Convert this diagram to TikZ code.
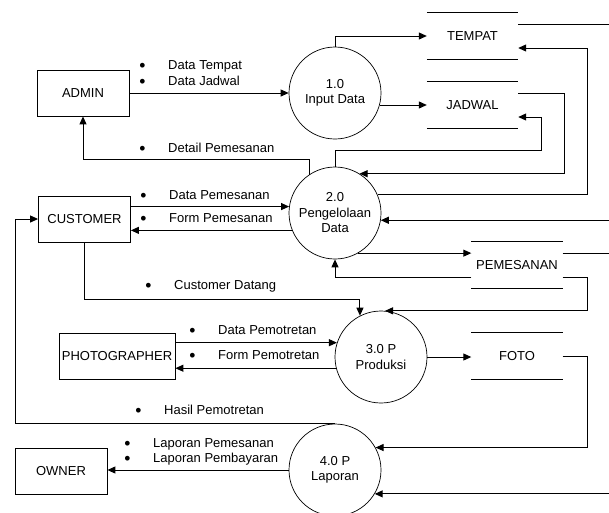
\documentclass[tikz,border=0pt]{standalone}
\usepackage{fontspec}
\setmainfont{Liberation Sans}
\usetikzlibrary{arrows.meta}
\newcommand{\bul}{\makebox[28.3pt][l]{\hspace{-0.6pt}\raisebox{-0.12em}{\scalebox{1.35}{\textbullet}}}}

\begin{document}
\begin{tikzpicture}[x=1pt,y=-1pt,
		entity/.style={draw,line width=0.8pt,minimum width=92pt,minimum height=46pt},
		proc/.style={draw,circle,line width=0.7pt,minimum size=92pt,align=center},
		store/.style={minimum width=91pt,minimum height=46pt},
		flow/.style={line width=1pt,-{Triangle[length=8pt,width=7pt]}},
		link/.style={line width=1pt},
		lbl/.style={anchor=west,text height=9.3pt,text depth=0pt}]
		 \tikzstyle{every node}+=[inner sep=0pt,font=\fontsize{13}{15.5}\selectfont]
		 \useasboundingbox (0,0) rectangle (609,512);
		 \node [entity] (admin) at (83,93) {ADMIN};
		 \node [entity] (customer) at (84.5,219) {CUSTOMER};
		 \node [entity,minimum width=116pt] (photographer) at (117,356) {PHOTOGRAPHER};
		 \node [entity] (owner) at (61,471) {OWNER};
		 \node [proc] (input) at (335,93) {1.0\\Input Data};
		 \node [proc] (kelola) at (335,213) {2.0\\Pengelolaan\\Data};
		 \node [proc] (produksi) at (381,357) {3.0 P\\Produksi};
		 \node [proc] (laporan) at (335,470) {4.0 P\\Laporan};
		 \node [store] (tempat) at (472.5,36) {TEMPAT};
		 \node [store] (jadwal) at (472.5,105) {JADWAL};
		 \node [store] (pemesanan) at (517,265) {PEMESANAN};
		 \node [store] (foto) at (517,356) {FOTO};
		 \foreach \s in {tempat,jadwal,pemesanan,foto}
			 \draw [line width=0.8pt] (\s.north west) -- (\s.north east) (\s.south west) -- (\s.south east);
		 \coordinate (bus1) at (541,0);
		 \coordinate (bus2) at (564,0);
		 \coordinate (bus3) at (587,0);
		 \coordinate (rim) at (609,0);
		 \coordinate (lbus) at (15,0);
		 \coordinate (tempat in) at ([yshift=-12pt]tempat.east);
		 \coordinate (tempat out) at ([yshift=12pt]tempat.east);
		 \coordinate (jadwal in) at ([yshift=-12pt]jadwal.east);
		 \coordinate (jadwal out) at ([yshift=12pt]jadwal.east);
		 \coordinate (pesan out) at ([yshift=12pt]pemesanan.east);
		 \coordinate (pesan back) at ([yshift=-12pt]pemesanan.west);
		 \coordinate (pesan fwd) at ([yshift=-12pt]pemesanan.east);
		 \draw [flow] (admin) -- (input);
		 \draw [flow] (input.north) |- (tempat.west);
		 \draw [flow] (input.-15) -- (input.-15 -| jadwal.west);
		 \draw [link] (tempat out) -- (tempat out -| rim);
		 \draw [flow] (kelola.124) -- ++(0,-15) -| (admin.south);
		 \draw [flow] (kelola.172 -| customer.east) -- (kelola.172);
		 \draw [flow] (kelola.202) -- (kelola.202 -| customer.east);
		 \draw [flow] (kelola.23) -- (kelola.23 -| bus3) |- (tempat in);
		 \draw [flow] (jadwal out) -| (bus2 |- kelola.58) -- (kelola.58);
		 \draw [flow] (kelola.north) -- ++(0,-16) -| (bus1 |- jadwal in) -- (jadwal in);
		 \draw [flow] (rim |- kelola.-9) -- (kelola.-9);
		 \draw [flow] (kelola.-60) -- (kelola.-60 -| pemesanan.west);
		 \draw [link] (pesan out) -- (pesan out -| rim);
		 \draw [flow] (pesan back) -| (kelola.south);
		 \draw [flow] (pesan fwd) -| (bus3 |- produksi.85) -- (produksi.85);
		 \draw [flow] (customer.south) -- ++(0,57) -| (produksi.117);
		 \draw [flow] (produksi.162 -| photographer.east) -- (produksi.162);
		 \draw [flow] (produksi.194) -- (produksi.194 -| photographer.east);
		 \draw [flow] (produksi.east) -- (produksi.east -| foto.west);
		 \draw [flow] (foto.east) -| (bus3 |- laporan.29) -- (laporan.29);
		 \draw [flow] (rim |- laporan.-31) -- (laporan.-31);
		 \draw [flow] (laporan.west) -- (laporan.west -| owner.east);
		 \draw [flow] (laporan.north) -- (laporan.north -| lbus) |- (customer.west);
		 \node [lbl] (t1) at (139.7,65) {\bul Data Tempat};
		 \node [lbl] (t2) at (139.7,81) {\bul Data Jadwal};
		 \node [lbl] (t3) at (139.7,148) {\bul Detail Pemesanan};
		 \node [lbl] (t4) at (140.7,195) {\bul Data Pemesanan};
		 \node [lbl] (t5) at (140.7,218) {\bul Form Pemesanan};
		 \node [lbl] (t6) at (145.7,285) {\bul Customer Datang};
		 \node [lbl] (t7) at (189.7,330) {\bul Data Pemotretan};
		 \node [lbl] (t8) at (189.7,355) {\bul Form Pemotretan};
		 \node [lbl] (t9) at (135.7,410) {\bul Hasil Pemotretan};
		 \node [lbl] (t10) at (124.7,443) {\bul Laporan Pemesanan};
		 \node [lbl] (t11) at (124.7,458) {\bul Laporan Pembayaran};
\end{tikzpicture}
\end{document}
